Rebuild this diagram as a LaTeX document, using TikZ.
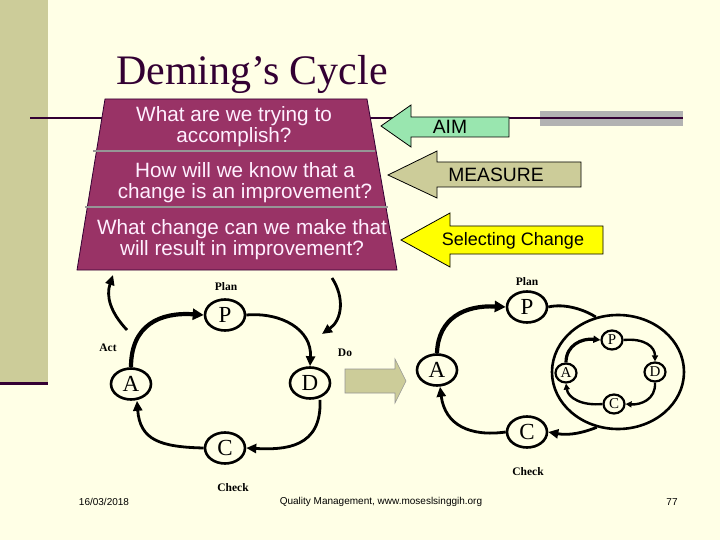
\documentclass[tikz,border=0pt]{standalone}
\usepackage{fontspec}
\setmainfont{Liberation Serif}
\setsansfont{Liberation Sans}
\usetikzlibrary{arrows.meta,shapes.geometric}
\definecolor{bg}{RGB}{255,255,230}
\definecolor{bar}{RGB}{204,204,153}
\definecolor{trap}{RGB}{153,51,102}
\definecolor{dark}{RGB}{51,0,51}
\definecolor{aimc}{RGB}{153,230,175}
\definecolor{khaki}{RGB}{204,204,153}
\definecolor{yel}{RGB}{255,255,0}
\definecolor{traptext}{RGB}{255,240,255}
\definecolor{greyline}{RGB}{150,150,150}
\definecolor{greybar}{RGB}{178,178,178}
\tikzset{
  cyc/.style={ellipse, draw=black, line width=2.6pt, minimum width=40pt, minimum height=31pt, inner sep=0pt, font=\fontsize{23}{23}\selectfont},
  smallcyc/.style={ellipse, draw=black, line width=2.2pt, minimum width=21pt, minimum height=19pt, inner sep=0pt, font=\fontsize{15}{15}\selectfont},
  lbl/.style={font=\bfseries\fontsize{11.5}{12}\selectfont},
  flow/.style={line width=2.8pt, -{Triangle[length=10pt,width=9pt]}},
  thickflow/.style={line width=4.2pt, -{Triangle[length=11pt,width=11pt]}},
  sflow/.style={line width=2.4pt, -{Triangle[length=6pt,width=6pt]}},
  sthick/.style={line width=3.2pt, -{Triangle[length=7pt,width=7pt]}},
  blockarrow/.style={draw=black, line width=0.8pt},
  qtext/.style={text=traptext, font=\sffamily\fontsize{20.7}{21}\selectfont, align=center},
  atext/.style={text=black, font=\sffamily\fontsize{19.3}{20}\selectfont},
  foot/.style={font=\sffamily\fontsize{10}{11}\selectfont},
}
\begin{document}
\begin{tikzpicture}[x=1pt,y=-1pt]
\useasboundingbox (0,0) rectangle (720,540);
\fill[bg] (0,0) rectangle (720,540);
% left bar
\fill[bar] (0,0) rectangle (48,383);
\draw[dark, line width=3pt] (0,383) -- (48,383);
% horizontal rule
\fill[greybar] (540,111) rectangle (683,126);
\draw[dark, line width=2pt] (30,118) -- (683,118);
% title
\node[anchor=base, text=dark, font=\fontsize{42}{44}\selectfont] (title) at (252,85) {Deming’s Cycle};
% trapezoid
\draw[fill=trap, draw=dark, line width=0.8pt] (105,99) -- (367,99) -- (397,270) -- (77,270) -- cycle;
\draw[greyline, line width=1.5pt] (93,151) -- (375,151);
\draw[greyline, line width=1.5pt] (85,207) -- (388,207);
\node[qtext] (q1) at (234,127) {What are we trying to\\accomplish?};
\node[qtext] (q2) at (245,183) {How will we know that a\\change is an improvement?};
\node[qtext] (q3) at (242,240) {What change can we make that\\will result in improvement?};
% block arrows
\draw[blockarrow, fill=aimc] (381,126) -- (411,105) -- (411,117) -- (509,117) -- (509,137) -- (411,137) -- (411,147) -- cycle;
\node[atext] (aim) at (450,127) {AIM};
\draw[blockarrow, fill=khaki] (388,175) -- (437,151) -- (437,162) -- (581,162) -- (581,187) -- (437,187) -- (437,198) -- cycle;
\node[atext] (measure) at (496,175) {MEASURE};
\draw[blockarrow, fill=yel] (401,240) -- (450,213) -- (450,226) -- (603,226) -- (603,254) -- (450,254) -- (450,267) -- cycle;
\node[atext, font=\sffamily\fontsize{18}{19}\selectfont] (sel) at (513,241) {Selecting Change};
% middle arrow
\draw[draw=greyline, line width=0.6pt, fill=khaki] (345,369) -- (395,369) -- (395,359) -- (406,381) -- (395,403) -- (395,393) -- (345,393) -- cycle;
% left cycle
\node[cyc] (lP) at (225,315) {P};
\node[cyc] (lA) at (131,384) {A};
\node[cyc] (lD) at (310,383) {D};
\node[cyc] (lC) at (225,448) {C};
\node[lbl] (lplan) at (226,287) {Plan};
\node[lbl] (lact) at (108,348) {Act};
\node[lbl] (ldo) at (345,353) {Do};
\node[lbl] (lcheck) at (233,488) {Check};
\draw[thickflow] (lA.north) .. controls (131,325) and (160,312) .. (lP.west);
\draw[flow] (lP.east) .. controls (282,312) and (312,330) .. (lD.north);
\draw[flow] ([xshift=10pt]lD.south) .. controls (322,448) and (285,450) .. (lC.east);
\draw[flow] (lC.west) .. controls (160,447) and (140,440) .. ([xshift=6pt]lA.south);
\coordinate (lo1) at (127,330);
\coordinate (lo2) at (113,275);
\coordinate (ro1) at (332,278);
\coordinate (ro2) at (322,334);
\draw[flow] (lo1) .. controls (110,312) and (106,296) .. (lo2);
\draw[flow] (ro1) .. controls (345,298) and (342,320) .. (ro2);
% right cycle
\node[cyc] (rP) at (527,307) {P};
\node[cyc] (rA) at (437,370) {A};
\node[cyc] (rC) at (527,432) {C};
\node[ellipse, draw=black, line width=2.6pt, minimum width=132pt, minimum height=114pt] (ring) at (618,372) {};
\node[lbl] (rplan) at (527,282) {Plan};
\node[lbl] (rcheck) at (528,472) {Check};
\draw[thickflow] (rA.north) .. controls (438,318) and (465,305) .. (rP.west);
\draw[line width=2.8pt] (rP.east) .. controls (565,303) and (585,310) .. (ring.112);
\draw[flow] (ring.249) .. controls (585,432) and (570,436) .. (rC.east);
\draw[flow] (rC.west) .. controls (470,437) and (445,425) .. ([xshift=3pt]rA.south);
% inner cycle
\node[smallcyc] (sP) at (612,340) {P};
\node[smallcyc] (sA) at (566,373) {A};
\node[smallcyc] (sD) at (655,372) {D};
\node[smallcyc] (sC) at (614,404) {C};
\draw[sthick] (sA.north) .. controls (566,345) and (582,338) .. (sP.west);
\draw[sflow] (sP.east) .. controls (645,338) and (655,347) .. (sD.north);
\draw[sflow] (sD.south) .. controls (656,400) and (640,405) .. (sC.east);
\draw[sflow] (sC.west) .. controls (582,406) and (568,398) .. (sA.south);
% footer
\node[foot] (date) at (104,502) {16/03/2018};
\node[foot] (src) at (381,502) {Quality Management, www.moseslsinggih.org};
\node[foot] (page) at (672,502) {77};
\end{tikzpicture}
\end{document}
